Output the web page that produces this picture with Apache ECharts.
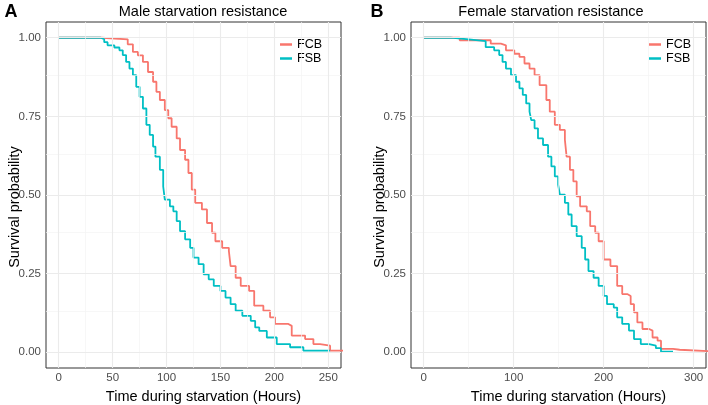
<!DOCTYPE html>
<html>
<head>
<meta charset="utf-8">
<script src="https://cdn.jsdelivr.net/npm/echarts@6/dist/echarts.min.js"></script>
<style>
  html, body { margin: 0; padding: 0; background: #fff; }
  #chart { width: 708px; height: 405px; }
</style>
</head>
<body>
<div id="chart"></div>
<script>
// Kaplan-Meier steps: time (hours) / survival after the drop
const maleFcbTime = [0, 40, 64, 68.8, 73.4, 78.1, 82.8, 87.5, 90.6, 93.8, 98.4, 101.6, 104.7, 109.4, 112.5, 117.2, 120.3, 123.4, 126.6, 132.8, 137.5, 142.2, 145.3, 151.6, 157.8, 159.4, 164.1, 168.8, 176.6, 181.3, 189.8, 196, 200.6, 213, 216.1, 228.5, 236.2, 242.4, 251.7, 275];
const maleFcbSurv = [1, 0.995, 0.979, 0.955, 0.944, 0.923, 0.891, 0.86, 0.828, 0.802, 0.77, 0.744, 0.717, 0.68, 0.643, 0.612, 0.57, 0.517, 0.475, 0.454, 0.411, 0.38, 0.353, 0.332, 0.322, 0.274, 0.237, 0.211, 0.195, 0.148, 0.132, 0.111, 0.09, 0.084, 0.053, 0.042, 0.026, 0.021, 0.005, 0.005];

const maleFsbTime = [0, 39, 42.2, 45.3, 51.6, 56.3, 59.4, 62.5, 65.6, 68.8, 71.9, 75, 78.1, 81.3, 84.4, 87.5, 89.7, 93.8, 96.9, 98.4, 103.1, 106.3, 109.4, 112.5, 117.2, 121.9, 125, 129.7, 134.4, 139.1, 143.8, 150, 154.7, 159.4, 164.1, 170.3, 178.1, 182.2, 186, 193, 202.2, 214.6, 226.9, 251.7];
const maleFsbSurv = [1, 0.995, 0.986, 0.976, 0.969, 0.96, 0.945, 0.923, 0.902, 0.881, 0.844, 0.812, 0.775, 0.723, 0.691, 0.654, 0.622, 0.58, 0.527, 0.485, 0.464, 0.448, 0.417, 0.385, 0.359, 0.332, 0.301, 0.28, 0.248, 0.232, 0.211, 0.195, 0.174, 0.153, 0.132, 0.116, 0.1, 0.079, 0.068, 0.047, 0.026, 0.016, 0.005, 0.003];

const femaleFcbTime = [0, 40, 74.5, 85.8, 91.4, 100.7, 106.4, 112, 117.6, 123.2, 128.8, 136.3, 140.1, 145.7, 151.3, 156.9, 158.8, 162.5, 166.3, 170, 173.8, 181.2, 185, 190.6, 194.4, 200, 207.5, 215, 220.6, 226.2, 230, 233.7, 237.4, 243.1, 250.5, 254.3, 259.9, 263.7, 277, 284.4, 320];
const femaleFcbSurv = [1, 0.992, 0.981, 0.976, 0.96, 0.949, 0.939, 0.918, 0.902, 0.881, 0.849, 0.802, 0.765, 0.723, 0.707, 0.675, 0.622, 0.58, 0.543, 0.496, 0.464, 0.448, 0.401, 0.38, 0.353, 0.295, 0.274, 0.211, 0.185, 0.179, 0.153, 0.127, 0.095, 0.074, 0.069, 0.047, 0.037, 0.011, 0.008, 0.003, 0.003];

const femaleFsbTime = [0, 30, 50.2, 68.9, 78.3, 83.9, 87.6, 91.4, 97, 102.6, 106.4, 110.1, 113.9, 117.6, 119.5, 123.2, 127, 132.6, 138.2, 141.9, 145.7, 149.4, 151.3, 156.9, 160.7, 164.4, 170, 175.6, 179.4, 183.1, 188.8, 194.4, 200, 203.7, 211.2, 215, 220.6, 228.1, 233.7, 241.2, 250.5, 258, 263.7, 277];
const femaleFsbSurv = [1, 0.995, 0.989, 0.97, 0.96, 0.945, 0.923, 0.902, 0.881, 0.86, 0.839, 0.818, 0.791, 0.765, 0.738, 0.712, 0.68, 0.659, 0.622, 0.591, 0.559, 0.533, 0.501, 0.475, 0.438, 0.401, 0.369, 0.332, 0.295, 0.258, 0.237, 0.211, 0.179, 0.153, 0.142, 0.111, 0.09, 0.069, 0.042, 0.026, 0.021, 0.013, 0.002, 0.002];

const groups = ['FCB', 'FSB'];
const maleTicks = [0, 50, 100, 150, 200, 250];
const maleMinor = [25, 75, 125, 175, 225];
const femaleTicks = [0, 100, 200, 300];
const femaleMinor = [50, 150, 250];
const survTicks = [0, 0.25, 0.5, 0.75, 1];
const survMinor = [0.125, 0.375, 0.625, 0.875];

const colors = { FCB: '#F8766D', FSB: '#00BFC4' };
const FONT = "'Liberation Sans', Arial, sans-serif";

const pairs = (t, s) => t.map((x, i) => [x, s[i]]);

function xAxisFor(idx, ticks, min, max) {
  return {
    type: 'value', gridIndex: idx, min: min, max: max,
    name: 'Time during starvation (Hours)', nameLocation: 'middle', nameGap: 21, nameMoveOverlap: false,
    nameTextStyle: { color: '#000', fontSize: 14.5, fontFamily: FONT, padding: [0, 0, 0, 20] },
    axisLine: { show: false },
    axisTick: { show: true, length: 4, customValues: ticks, lineStyle: { color: '#333', width: 1 } },
    axisLabel: { customValues: ticks, margin: 4, color: '#4D4D4D', fontSize: 11.5, fontFamily: FONT },
    splitLine: { show: false }
  };
}
function yAxisFor(idx) {
  return {
    type: 'value', gridIndex: idx, min: -0.05, max: 1.05,
    name: 'Survival probability', nameLocation: 'middle', nameGap: 24, nameMoveOverlap: false,
    nameTextStyle: { color: '#000', fontSize: 14.5, fontFamily: FONT, padding: [0, 24, 0, 0] },
    axisLine: { show: false },
    axisTick: { show: true, length: 4, customValues: survTicks, lineStyle: { color: '#333', width: 1 } },
    axisLabel: { customValues: survTicks, margin: 5, color: '#4D4D4D', fontSize: 11.5, fontFamily: FONT,
      formatter: v => v.toFixed(2) },
    splitLine: { show: false }
  };
}
// panel grid lines, drawn as marklines on an empty helper series
function gridSeries(idx, xMajor, xMinor) {
  const major = { color: '#EBEBEB', width: 1.1, type: 'solid' };
  const minor = { color: '#F3F3F3', width: 0.7, type: 'solid' };
  const lines = []
    .concat(xMinor.map(v => ({ xAxis: v, lineStyle: minor })))
    .concat(survMinor.map(v => ({ yAxis: v, lineStyle: minor })))
    .concat(xMajor.map(v => ({ xAxis: v, lineStyle: major })))
    .concat(survTicks.map(v => ({ yAxis: v, lineStyle: major })));
  return {
    type: 'line', xAxisIndex: idx, yAxisIndex: idx, data: [], silent: true, z: 1,
    markLine: { symbol: ['none', 'none'], silent: true, animation: false,
      label: { show: false }, emphasis: { disabled: true }, data: lines }
  };
}
function kmSeries(idx, name, t, s) {
  return {
    name: name, type: 'line', step: 'end', xAxisIndex: idx, yAxisIndex: idx,
    data: pairs(t, s), showSymbol: false, symbol: 'none', clip: true, z: 3,
    color: colors[name], lineStyle: { color: colors[name], width: 1.8 },
    emphasis: { disabled: true }
  };
}
function legendAt(left) {
  return {
    data: groups, orient: 'vertical', left: left, top: 38, padding: 0,
    itemWidth: 12, itemHeight: 2.5, itemGap: 1, icon: 'rect', selectedMode: false,
    textStyle: { fontSize: 12.5, color: '#000', fontFamily: FONT, overflow: 'none' }
  };
}
function gridAt(left) {
  return { left: left, top: 22, width: 295, height: 346, outerBoundsMode: 'none', containLabel: false,
    show: true, borderColor: '#333', borderWidth: 1, backgroundColor: '#fff' };
}

const chart = echarts.init(document.getElementById('chart'), null, { renderer: 'canvas' });
chart.setOption({
  animation: false,
  textStyle: { fontFamily: FONT },
  grid: [gridAt(46), gridAt(411)],
  xAxis: [xAxisFor(0, maleTicks, -11.8, 261.8), xAxisFor(1, femaleTicks, -14.1, 313.7)],
  yAxis: [yAxisFor(0), yAxisFor(1)],
  legend: [legendAt(280), legendAt(649)],
  graphic: [
    { type: 'text', x: 11, y: 12, style: { text: 'A', font: 'bold 18px ' + FONT, fill: '#000', align: 'center', verticalAlign: 'middle' } },
    { type: 'text', x: 377, y: 12, style: { text: 'B', font: 'bold 18px ' + FONT, fill: '#000', align: 'center', verticalAlign: 'middle' } },
    { type: 'text', x: 203, y: 12, style: { text: 'Male starvation resistance', font: '14.5px ' + FONT, fill: '#000', align: 'center', verticalAlign: 'middle' } },
    { type: 'text', x: 551, y: 12, style: { text: 'Female starvation resistance', font: '14.5px ' + FONT, fill: '#000', align: 'center', verticalAlign: 'middle' } }
  ],
  series: [
    gridSeries(0, maleTicks, maleMinor),
    gridSeries(1, femaleTicks, femaleMinor),
    kmSeries(0, 'FCB', maleFcbTime, maleFcbSurv),
    kmSeries(0, 'FSB', maleFsbTime, maleFsbSurv),
    kmSeries(1, 'FCB', femaleFcbTime, femaleFcbSurv),
    kmSeries(1, 'FSB', femaleFsbTime, femaleFsbSurv)
  ]
});
</script>
</body>
</html>
